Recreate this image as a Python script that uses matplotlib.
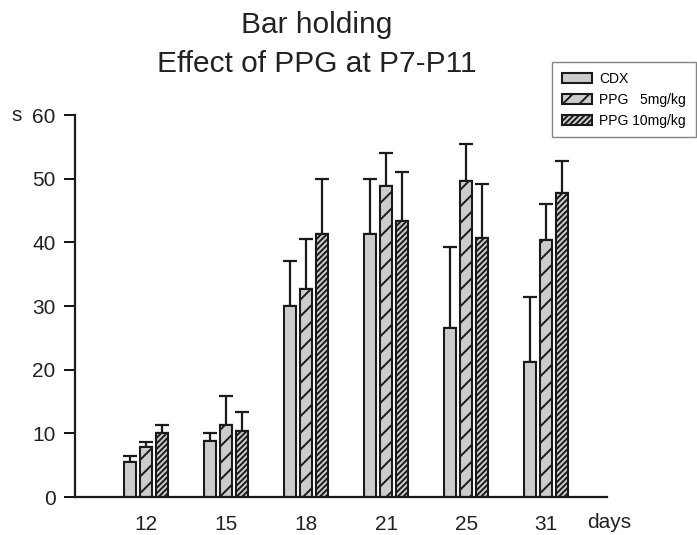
import numpy as np
import matplotlib.pyplot as plt

plt.rcParams['font.family'] = ['Liberation Sans', 'DejaVu Sans']
plt.rcParams['hatch.linewidth'] = 1.4

# data
days = ['12', '15', '18', '21', '25', '31']
cdx = [5.5, 8.8, 30.0, 41.3, 26.6, 21.2]
cdx_top = [6.5, 10.1, 37.0, 50.0, 39.2, 31.4]
ppg5 = [7.8, 11.3, 32.7, 48.8, 49.6, 40.3]
ppg5_top = [8.7, 15.8, 40.5, 54.0, 55.5, 46.0]
ppg10 = [10.0, 10.4, 41.3, 43.3, 40.7, 47.8]
ppg10_top = [11.3, 13.4, 50.0, 51.0, 49.1, 52.8]

series = [
    ('CDX', cdx, cdx_top, ''),
    ('PPG   5mg/kg', ppg5, ppg5_top, '//'),
    ('PPG 10mg/kg', ppg10, ppg10_top, '//////'),
]

fig = plt.figure(figsize=(6.97, 5.35), dpi=100)
ax = fig.add_axes([0.1076, 0.071, 0.7634, 0.714])

x = np.arange(len(days))
step = 0.2
width = 0.15
handles = []
for i, (name, vals, tops, hatch) in enumerate(series):
    pos = x + (i - 1) * step
    vals = np.array(vals)
    err = np.array(tops) - vals
    b = ax.bar(pos, vals, width, color='#cccccc', edgecolor='#1a1a1a',
               linewidth=1.5, hatch=hatch, label=name, zorder=2)
    ax.errorbar(pos, vals, yerr=[np.zeros_like(err), err], fmt='none',
                ecolor='#1a1a1a', elinewidth=1.6, capsize=5, capthick=1.6, zorder=1)
    handles.append(b)

ax.set_xlim(-0.89, 5.76)
ax.set_ylim(0, 60)
ax.set_yticks(range(0, 61, 10))
ax.set_xticks(x)
ax.set_xticklabels(days)
ax.tick_params(axis='y', direction='out', length=8, width=1.3, labelsize=15, pad=6,
               labelcolor='#222222')
ax.tick_params(axis='x', length=0, labelsize=15, pad=13, labelcolor='#222222')
for s in ['top', 'right']:
    ax.spines[s].set_visible(False)
for s in ['left', 'bottom']:
    ax.spines[s].set_linewidth(1.6)
    ax.spines[s].set_color('#1a1a1a')

fig.text(0.017, 0.785, 's', fontsize=15, va='center', color='#222222')
fig.text(0.842, 0.024, 'days', fontsize=15, va='center', ha='left', color='#222222')

fig.text(0.455, 0.938, 'Bar holding', fontsize=21.5, ha='center', va='baseline', color='#222222')
fig.text(0.455, 0.865, 'Effect of PPG at P7-P11', fontsize=21.5, ha='center', va='baseline',
         color='#222222')

leg = fig.legend(handles=handles, loc='upper left', bbox_to_anchor=(0.792, 0.884),
                 borderaxespad=0, fontsize=10, frameon=True, fancybox=False,
                 edgecolor='#666666', handlelength=2.2, handleheight=0.7, borderpad=0.7,
                 labelspacing=0.5, handletextpad=0.5)
leg.get_frame().set_linewidth(1.0)

fig.savefig('out.png', dpi=100)
